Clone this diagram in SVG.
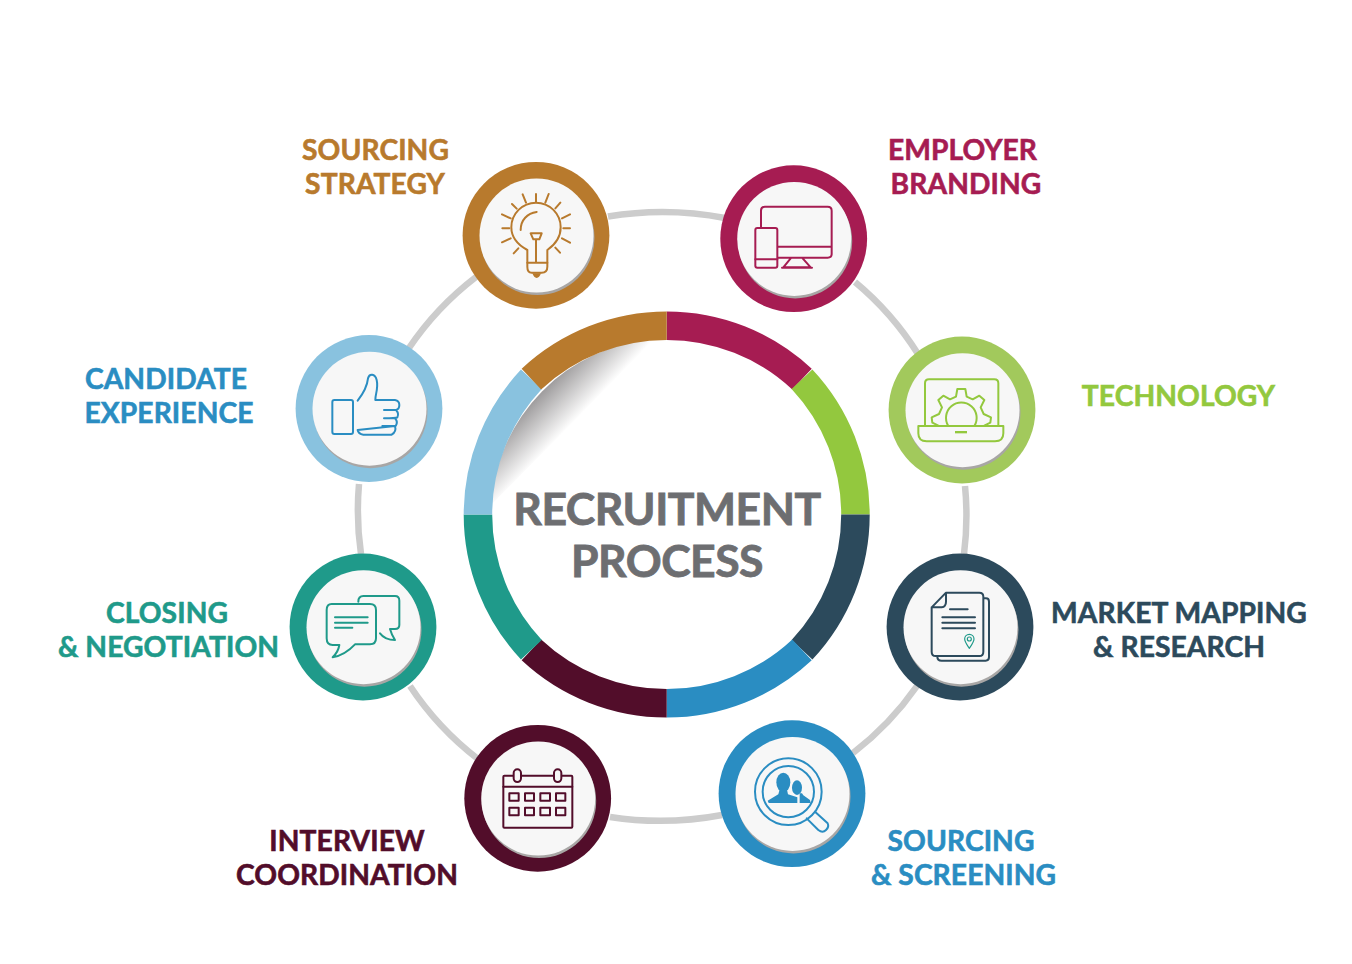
<svg xmlns="http://www.w3.org/2000/svg" width="1352" height="964" viewBox="0 0 1352 964">
<style>
text{font-family:"Lato","Liberation Sans",sans-serif;font-weight:700;font-size:28.200px;text-anchor:middle;letter-spacing:.1px;stroke-width:.6px}
.t{font-size:44.500px;fill:#6d6e71;stroke:#6d6e71;stroke-width:.8px;letter-spacing:-.5px}
.c{fill:none;stroke:#cccccc;stroke-width:6.500}
.s{fill:none;stroke-width:28.500}
.sh{fill:#a8a6a5}
.in{fill:#f7f7f7}
.i{fill:none;stroke-width:6;stroke-linejoin:round;stroke-linecap:round}
.z{transform:scale(.33333)}
.gold{fill:#b87a2d;stroke:#b87a2d}
.mag{fill:#a61c52;stroke:#a61c52}
.grn{fill:#93c83e;stroke:#93c83e}
.nav{fill:#2c4a5c;stroke:#2c4a5c}
.blu{fill:#2a8dc2;stroke:#2a8dc2}
.plm{fill:#520d2a;stroke:#520d2a}
.tea{fill:#1f9a8a;stroke:#1f9a8a}
</style>
<defs>
<linearGradient id="fold" gradientUnits="userSpaceOnUse" x1="544" y1="391" x2="575" y2="421">
<stop offset="0" stop-color="#a09e9f"/><stop offset="1" stop-color="#ffffff"/>
</linearGradient>
</defs>
<rect width="1352" height="964" fill="#ffffff"/>
<g id="connectors">
<path class="c" d="M608,216.500A330,330 0 0 1 725,218"/>
<path class="c" d="M855,282A304,304 0 0 1 918,354"/>
<path class="c" d="M965,486A304,304 0 0 1 964,554"/>
<path class="c" d="M917,686A304,304 0 0 1 853,753"/>
<path class="c" d="M722,815A330,330 0 0 1 610,817"/>
<path class="c" d="M478,759A304,304 0 0 1 410,686"/>
<path class="c" d="M361,554A304,304 0 0 1 359,484"/>
<path class="c" d="M409,348A304,304 0 0 1 476,277"/>
</g>
<g id="center">
<path d="M491,505A178,178 0 0 1 655,339Z" fill="url(#fold)"/>
<path class="s" stroke="#a61c52" d="M666.700,325.750A198,198 0 0 1 802,379.200"/>
<path class="s" stroke="#93c83e" d="M802,379.200A198,198 0 0 1 855.450,514.500"/>
<path class="s" stroke="#2c4a5c" d="M855.450,514.500A198,198 0 0 1 802,649.800"/>
<path class="s" stroke="#2a8dc2" d="M802,649.800A198,198 0 0 1 666.700,703.250"/>
<path class="s" stroke="#520d2a" d="M666.700,703.250A198,198 0 0 1 531.400,649.800"/>
<path class="s" stroke="#1f9a8a" d="M531.400,649.800A198,198 0 0 1 477.950,514.500"/>
<path class="s" stroke="#89c2df" d="M477.950,514.500A198,198 0 0 1 531.400,379.200"/>
<path class="s" stroke="#b87a2d" d="M531.400,379.200A198,198 0 0 1 666.700,325.750"/>
<text class="t" x="667" y="524.500">RECRUITMENT</text>
<text class="t" x="667" y="576.500">PROCESS</text>
</g>
<g id="node-sourcing-strategy">
<circle cx="536" cy="235.300" r="73.400" fill="#b87a2d"/><circle class="sh" cx="537.500" cy="238" r="57"/><circle class="in" cx="536.500" cy="235.500" r="57"/>
<g transform="translate(450 150)"><g class="z"><g class="i" stroke="#b87a2d">
<path d="M232,300C204,285 184,262 184,232A74,74 0 0 1 332,232C332,262 314,285 292,300V350Q292,368 275,368H245Q232,368 232,350Z"/>
<path d="M232,338H292M258,268V338M242,250H275L268,268H250ZM212,240C212,210 232,190 260,186"/>
<path d="M218,133L228,158M258,132V155M296,132L286,158M331,158L316,175M360,193L336,205M360,235H340M360,278L336,265M330,308L316,293M156,193L182,205M157,235H178M156,277L182,265M191,310L205,295M186,162L200,176"/>
</g><path d="M247,370H273Q268,384 260,384Q252,384 247,370Z" fill="#b87a2d"/></g></g>
<text class="gold" x="375.500" y="159.500">SOURCING</text><text class="gold" x="375" y="193.500">STRATEGY</text>
</g>
<g id="node-employer-branding">
<circle cx="793.700" cy="238.700" r="73.400" fill="#a61c52"/><circle class="sh" cx="795.200" cy="241.400" r="57"/><circle class="in" cx="794.200" cy="238.900" r="57"/>
<g transform="translate(450 150)"><g class="z"><g class="i" stroke="#a61c52">
<path d="M933,232V182Q933,170 945,170H1133Q1145,170 1145,182V312Q1145,323 1133,323H984M984,290H1145M1022,325L1000,352H1082L1058,325M996,353H1086"/>
<rect x="916" y="234" width="66" height="119" rx="6"/><path d="M916,328H982"/>
</g></g></g>
<text class="mag" x="962.500" y="159.500">EMPLOYER</text><text class="mag" x="966" y="193.500">BRANDING</text>
</g>
<g id="node-technology">
<circle cx="962" cy="410" r="73.400" fill="#a2c95c"/><circle class="sh" cx="963.500" cy="412.700" r="57"/><circle class="in" cx="962.500" cy="410.200" r="57"/>
<g transform="translate(880 330)"><g class="z"><g class="i" stroke="#93c83e">
<path d="M135,287V160Q135,148 147,148H343Q355,148 355,160V287M115,288H370V310Q370,334 345,334H140Q115,334 115,310Z"/>
<path d="M205,288A46,46 0 1 1 283,288M175,287L157,278L155,262L177,252L186,232L175,210L190,197L210,208L228,200L232,177H256L260,200L278,208L298,197L313,210L302,232L311,252L333,262L331,278L313,287"/>
</g><rect x="225" y="303" width="36" height="7" fill="#93c83e"/></g></g>
<text class="grn" x="1178.500" y="405.500">TECHNOLOGY</text>
</g>
<g id="node-market-mapping">
<circle cx="960" cy="627" r="73.400" fill="#2c4a5c"/><circle class="sh" cx="961.500" cy="629.700" r="57"/><circle class="in" cx="960.500" cy="627.200" r="57"/>
<g transform="translate(880 330)"><g class="z"><g class="i" stroke="#2c4a5c">
<path d="M198,788H298Q310,788 310,800V965Q310,978 298,978H167Q155,978 155,965V832ZM155,832H185Q198,830 198,815V788M310,805H318Q327,805 327,815V982Q327,992 317,992H185Q172,992 172,980M210,838H263M187,862H285M187,878H285M187,895H285"/>
</g><g class="i" stroke="#1f9a8a" style="stroke-width:3.500"><path d="M268,955C258,940 254,935 254,927A14,14 0 0 1 282,927C282,935 278,940 268,955Z"/><circle cx="268" cy="927" r="6"/></g></g></g>
<text class="nav" x="1179" y="622.500">MARKET MAPPING</text><text class="nav" x="1179" y="656.500">&amp; RESEARCH</text>
</g>
<g id="node-sourcing-screening">
<circle cx="792" cy="793.700" r="73.400" fill="#2a8dc2"/><circle class="sh" cx="793.500" cy="796.400" r="57"/><circle class="in" cx="792.500" cy="793.900" r="57"/>
<g transform="translate(450 710)"><g class="z"><g class="i" stroke="#2a8dc2">
<circle cx="1015" cy="245" r="100"/><circle cx="1015" cy="245" r="77"/>
<path d="M1095,305L1133,340Q1138,350 1128,360Q1118,370 1105,360L1070,325"/>
</g><g fill="#2a8dc2"><ellipse cx="1000" cy="217" rx="21" ry="29"/><ellipse cx="1041" cy="233" rx="15" ry="22"/>
<path d="M953,272L985,253L990,235H1010L1014,253L1042,262V279H956Z"/><path d="M1049,262V250H1056L1060,256L1080,270L1082,279H1049Z"/></g></g></g>
<text class="blu" x="961" y="850.500">SOURCING</text><text class="blu" x="963.500" y="884.500">&amp; SCREENING</text>
</g>
<g id="node-interview-coordination">
<circle cx="537.700" cy="798.300" r="73.400" fill="#520d2a"/><circle class="sh" cx="539.200" cy="801" r="57"/><circle class="in" cx="538.200" cy="798.500" r="57"/>
<g transform="translate(450 710)"><g class="z"><g class="i" stroke="#520d2a">
<rect x="160" y="197" width="207" height="156" rx="3"/><path d="M160,230H367"/>
<rect x="191" y="178" width="22" height="38" rx="11" fill="#f7f7f7"/><rect x="312" y="178" width="22" height="38" rx="11" fill="#f7f7f7"/>
<rect x="178" y="250" width="28" height="22"/><rect x="225" y="250" width="27" height="22"/><rect x="271" y="250" width="29" height="22"/><rect x="318" y="250" width="28" height="22"/>
<rect x="178" y="293" width="28" height="23"/><rect x="225" y="293" width="27" height="23"/><rect x="271" y="293" width="29" height="23"/><rect x="318" y="293" width="28" height="23"/>
</g></g></g>
<text class="plm" x="347" y="850.500">INTERVIEW</text><text class="plm" x="347" y="884.500">COORDINATION</text>
</g>
<g id="node-closing-negotiation">
<circle cx="363" cy="627" r="73.400" fill="#1f9a8a"/><circle class="sh" cx="364.500" cy="629.700" r="57"/><circle class="in" cx="363.500" cy="627.200" r="57"/>
<g transform="translate(280 330)"><g class="z"><g class="i" stroke="#1f9a8a">
<path d="M235,815Q235,798 250,798H345Q358,798 358,812V885Q358,897 345,897H330Q335,915 345,930Q315,930 300,910"/>
<path d="M155,822H270Q288,822 288,840V925Q288,943 270,943H225Q195,975 158,982Q175,965 178,945H158Q140,945 140,925V840Q140,822 155,822ZM165,862H263M165,878H263M165,893H217"/>
</g></g></g>
<text class="tea" x="167" y="622.500">CLOSING</text><text class="tea" x="168.500" y="656.500">&amp; NEGOTIATION</text>
</g>
<g id="node-candidate-experience">
<circle cx="369" cy="408.500" r="73.400" fill="#89c2df"/><circle class="sh" cx="370.500" cy="411.200" r="57"/><circle class="in" cx="369.500" cy="408.700" r="57"/>
<g transform="translate(280 330)"><g class="z"><g class="i" stroke="#2a8dc2">
<rect x="157" y="210" width="62" height="102" rx="6"/>
<path d="M233,212C250,190 262,165 264,145C268,130 285,130 290,150C296,175 285,195 286,210H345Q358,212 358,225Q358,238 348,240H312M348,240Q358,250 352,262Q348,265 312,265M345,265Q355,275 347,288H307M345,288Q350,305 335,314H250Q235,312 233,300Z"/>
</g></g></g>
<text class="blu" x="166" y="388.500">CANDIDATE</text><text class="blu" x="169" y="422.500">EXPERIENCE</text>
</g>
</svg>
